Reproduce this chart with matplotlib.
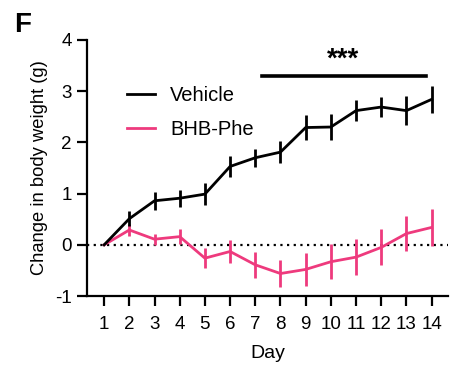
import matplotlib
matplotlib.use("Agg")
import matplotlib.pyplot as plt
from matplotlib.lines import Line2D
import numpy as np

plt.rcParams['font.family'] = ['Liberation Sans', 'DejaVu Sans']
plt.rcParams['axes.unicode_minus'] = False

days = np.arange(1, 15)
vehicle = [0, 0.51, 0.86, 0.91, 0.99, 1.53, 1.70, 1.81, 2.29, 2.30, 2.62, 2.69, 2.62, 2.84]
vehicle_err = [0, 0.15, 0.18, 0.17, 0.21, 0.20, 0.18, 0.22, 0.25, 0.25, 0.20, 0.20, 0.28, 0.26]
bhb = [0, 0.29, 0.11, 0.16, -0.26, -0.13, -0.39, -0.56, -0.48, -0.33, -0.24, -0.05, 0.22, 0.34]
bhb_err = [0, 0.12, 0.11, 0.15, 0.19, 0.22, 0.25, 0.27, 0.32, 0.34, 0.35, 0.35, 0.35, 0.36]

pink = "#EE3A7D"

fig = plt.figure(figsize=(4.64, 3.84), dpi=100)
ax = fig.add_axes([0.1875, 0.229, 0.778, 0.667])

ax.axhline(0, color="black", lw=1.6, ls=(0, (1, 2)), zorder=1)
ax.errorbar(days, bhb, yerr=bhb_err, color=pink, lw=2, elinewidth=2, capsize=0, zorder=2)
ax.errorbar(days, vehicle, yerr=vehicle_err, color="black", lw=2, elinewidth=2, capsize=0, zorder=3)

# significance bar
ax.plot([7.26, 13.78], [3.29, 3.29], color="black", lw=2.6)
ax.text(10.48, 3.62, "***", ha="center", va="center", fontsize=20, fontweight="bold")

ax.set_xlim(0.32, 14.65)
ax.set_ylim(-1, 4)
ax.set_xticks(days)
ax.set_yticks(range(-1, 5))
ax.set_xlabel("Day", fontsize=14, labelpad=9)
ax.set_ylabel("Change in body weight (g)", fontsize=13.2, labelpad=5)
ax.tick_params(labelsize=13.5, width=1.6, length=7.5, pad=3.5)
ax.tick_params(axis="x", pad=6.5)
for side in ["top", "right"]:
    ax.spines[side].set_visible(False)
for side in ["left", "bottom"]:
    ax.spines[side].set_linewidth(1.6)

handles = [Line2D([], [], color="black", lw=2), Line2D([], [], color=pink, lw=2)]
ax.legend(handles, ["Vehicle", "BHB-Phe"], loc="center left", bbox_to_anchor=(0.11, 0.715),
          frameon=False, fontsize=14.5, handlelength=1.4, handletextpad=0.75,
          labelspacing=0.75, borderpad=0, borderaxespad=0)

fig.text(0.03, 0.968, "F", fontsize=20, fontweight="bold", va="top")

fig.savefig("out.png", dpi=100)
